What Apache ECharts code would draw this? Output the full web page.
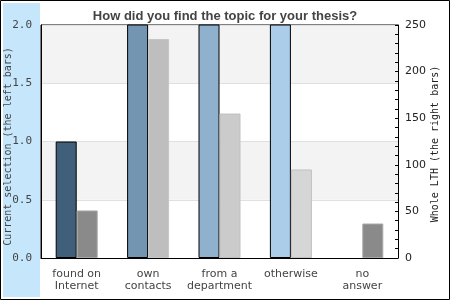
<!DOCTYPE html>
<html>
<head>
<meta charset="utf-8">
<script src="https://cdn.jsdelivr.net/npm/echarts@6/dist/echarts.min.js"></script>
<style>html,body{margin:0;padding:0;background:#fff}#c{width:450px;height:300px}</style>
</head>
<body>
<div id="c"></div>
<script>
var categories = ['found on\nInternet', 'own\ncontacts', 'from a\ndepartment', 'otherwise', 'no\nanswer'];
var currentSelection = [1, 5, 4, 3, 0];      // left axis (bars beyond 2.0 are clipped)
var wholeLTH = [51, 235, 155, 95, 37];       // right axis
var leftTicks = [0, 0.5, 1.0, 1.5, 2.0];
var rightTicks = [0, 50, 100, 150, 200, 250];

var leftColors = ['#3f5f7b', '#7395b1', '#8fb1cd', '#abcde9', '#3f5f7b'];
var rightColors = ['#8a8a8a', '#bebebe', '#cbcbcb', '#d6d6d6', '#8a8a8a'];
var rightBorders = ['#a8a8a8', '#c6c6c6', '#c0c0c0', '#c0c0c0', '#a8a8a8'];

var chart = echarts.init(document.getElementById('c'), null, {renderer: 'canvas'});
chart.setOption({
  animation: false,
  backgroundColor: '#fff',
  title: {
    text: 'How did you find the topic for your thesis?',
    left: 'center', top: 5,
    textStyle: {fontFamily: 'Liberation Sans', fontWeight: 'bold', fontSize: 13, color: '#444'}
  },
  graphic: [
    {type: 'rect', z: -10, shape: {x: 3, y: 3, width: 37, height: 294}, style: {fill: '#c6e6fb'}},
    {type: 'rect', z: 100, shape: {x: 0.5, y: 0.5, width: 449, height: 299}, style: {fill: null, stroke: '#000', lineWidth: 1}}
  ],
  grid: {left: 41, right: 52, top: 25, bottom: 42, containLabel: false, outerBoundsMode: 'none',
    show: true, borderColor: '#000', borderWidth: 1, backgroundColor: 'transparent'},
  xAxis: {
    type: 'category', data: categories,
    axisLine: {lineStyle: {color: '#000'}},
    axisTick: {show: false},
    axisLabel: {color: '#444', fontFamily: 'DejaVu Sans', fontSize: 11, lineHeight: 12, margin: 10, interval: 0}
  },
  yAxis: [{
    type: 'value', min: leftTicks[0], max: leftTicks[leftTicks.length - 1], interval: 0.5,
    position: 'left',
    axisLine: {show: true, lineStyle: {color: '#000'}},
    axisTick: {show: false},
    axisLabel: {color: '#444', fontFamily: 'DejaVu Sans Mono', fontSize: 11, margin: 9,
      formatter: function (v) { return v.toFixed(1); }},
    splitLine: {show: true, lineStyle: {color: '#e0e0e0'}},
    splitArea: {show: true, areaStyle: {color: ['#ffffff', '#f3f3f3']}},
    name: 'Current selection (the left bars)', nameLocation: 'middle', nameRotate: 90, nameGap: 28,
    nameMoveOverlap: false,
    nameTextStyle: {color: '#444', fontFamily: 'DejaVu Sans Mono', fontSize: 10, padding: [0, 10, 0, 0]}
  }, {
    type: 'value', min: rightTicks[0], max: rightTicks[rightTicks.length - 1], interval: 50,
    position: 'right',
    axisLine: {show: true, lineStyle: {color: '#000'}},
    axisTick: {show: true, inside: true, length: 3, lineStyle: {color: '#000'}},
    minorTick: {show: true, splitNumber: 5, length: 3, lineStyle: {color: '#000'}},
    axisLabel: {color: '#222', fontFamily: 'DejaVu Sans', fontSize: 11, margin: 7},
    splitLine: {show: false},
    name: 'Whole LTH (the right bars)', nameLocation: 'middle', nameRotate: 90, nameGap: 32,
    nameMoveOverlap: false,
    nameTextStyle: {color: '#222', fontFamily: 'DejaVu Sans Mono', fontSize: 10, padding: [0, 5, 0, 0]}
  }],
  series: [{
    type: 'bar', yAxisIndex: 0, barWidth: 21, barGap: '0%', clip: true,
    data: currentSelection.map(function (v, i) {
      return {value: v, itemStyle: {color: leftColors[i], borderColor: v === 0 ? 'transparent' : '#000', borderWidth: 1}};
    })
  }, {
    type: 'bar', yAxisIndex: 1, barWidth: 21, barGap: '0%', clip: true,
    data: wholeLTH.map(function (v, i) {
      return {value: v, itemStyle: {color: rightColors[i], borderColor: rightBorders[i], borderWidth: 1}};
    })
  }]
});
</script>
</body>
</html>
